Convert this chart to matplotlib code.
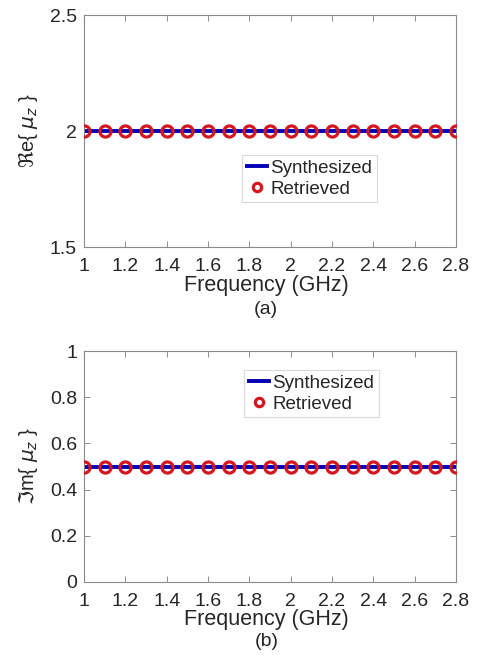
import numpy as np
from matplotlib import pyplot as plt

# data
freq = [1.0, 1.1, 1.2, 1.3, 1.4, 1.5, 1.6, 1.7, 1.8, 1.9,
        2.0, 2.1, 2.2, 2.3, 2.4, 2.5, 2.6, 2.7, 2.8]
re_synth = [2.0] * len(freq)
re_retr = [2.0] * len(freq)
im_synth = [0.5] * len(freq)
im_retr = [0.5] * len(freq)
xticks = [1, 1.2, 1.4, 1.6, 1.8, 2, 2.2, 2.4, 2.6, 2.8]
xtick_labels = ['1', '1.2', '1.4', '1.6', '1.8', '2', '2.2', '2.4', '2.6', '2.8']

plt.rcParams['font.family'] = ['Liberation Sans', 'DejaVu Sans']
plt.rcParams['mathtext.fontset'] = 'dejavusans'
txt_col = '#262626'

fig = plt.figure(figsize=(4.78, 6.55), dpi=100)
W, H = 478, 655


def setup(ax, ylim, yticks, ylabels, ylabel, tag, tag_y, xlab_y, leg_box):
    ax.plot(freq, ylim[2], color='#0000b4', lw=2.8, label='Synthesized', zorder=2)
    ax.plot(freq, ylim[3], linestyle='none', marker='o', ms=8, mfc='none',
            mec='#d4161e', mew=2.3, label='Retrieved', zorder=3)
    ax.set_xlim(1, 2.8)
    ax.set_ylim(ylim[0], ylim[1])
    ax.set_xticks(xticks)
    ax.set_xticklabels(xtick_labels)
    ax.set_yticks(yticks)
    ax.set_yticklabels(ylabels)
    ax.tick_params(direction='in', length=4, width=0.6, top=True, right=True,
                   labelsize=14, colors='#7a7a7a', labelcolor=txt_col)
    ax.tick_params(axis='x', pad=8)
    ax.tick_params(axis='y', pad=5)
    for s in ax.spines.values():
        s.set_color('#8a8a8a')
        s.set_linewidth(0.8)
    ax.set_ylabel(ylabel, fontsize=14.5, color=txt_col, va='center')
    ax.yaxis.set_label_coords(-56 / 372, 0.5)
    ax.set_xlabel('Frequency (GHz)', fontsize=15.5, color=txt_col)
    ax.xaxis.set_label_coords(0.49, xlab_y)
    ax.xaxis.label.set_va('center')
    leg = ax.legend(loc='upper left', bbox_to_anchor=leg_box, fontsize=13.5,
                    frameon=True, fancybox=False, handlelength=1.1,
                    handletextpad=0.15, borderpad=0.25, labelspacing=0.2,
                    borderaxespad=0, markerscale=0.75)
    leg.get_frame().set_edgecolor('#d0d0d0')
    leg.get_frame().set_linewidth(0.8)
    for t in leg.get_texts():
        t.set_color(txt_col)
    ax.text(0.49, tag_y, tag, transform=ax.transAxes,
            ha='center', va='center', fontsize=14, color=txt_col)


# top panel
ax1 = fig.add_axes([84 / W, 1 - 247 / H, (456 - 84) / W, (247 - 15) / H])
setup(ax1, (1.5, 2.5, re_synth, re_retr), [1.5, 2, 2.5], ['1.5', '2', '2.5'],
      r'$\Re$e{ $\mu_z$ }', '(a)', -(310 - 247) / 232, -(285 - 247) / 232,
      ((242 - 84) / 372, (247 - 155) / 232))

# bottom panel
ax2 = fig.add_axes([84 / W, 1 - 582 / H, (456 - 84) / W, (582 - 351) / H])
setup(ax2, (0, 1, im_synth, im_retr), [0, 0.2, 0.4, 0.6, 0.8, 1],
      ['0', '0.2', '0.4', '0.6', '0.8', '1'],
      r'$\Im$m{ $\mu_z$ }', '(b)', -(641 - 582) / 231, -(619 - 582) / 231,
      ((244 - 84) / 372, (582 - 370) / 231))

fig.savefig('out.png', dpi=100)
